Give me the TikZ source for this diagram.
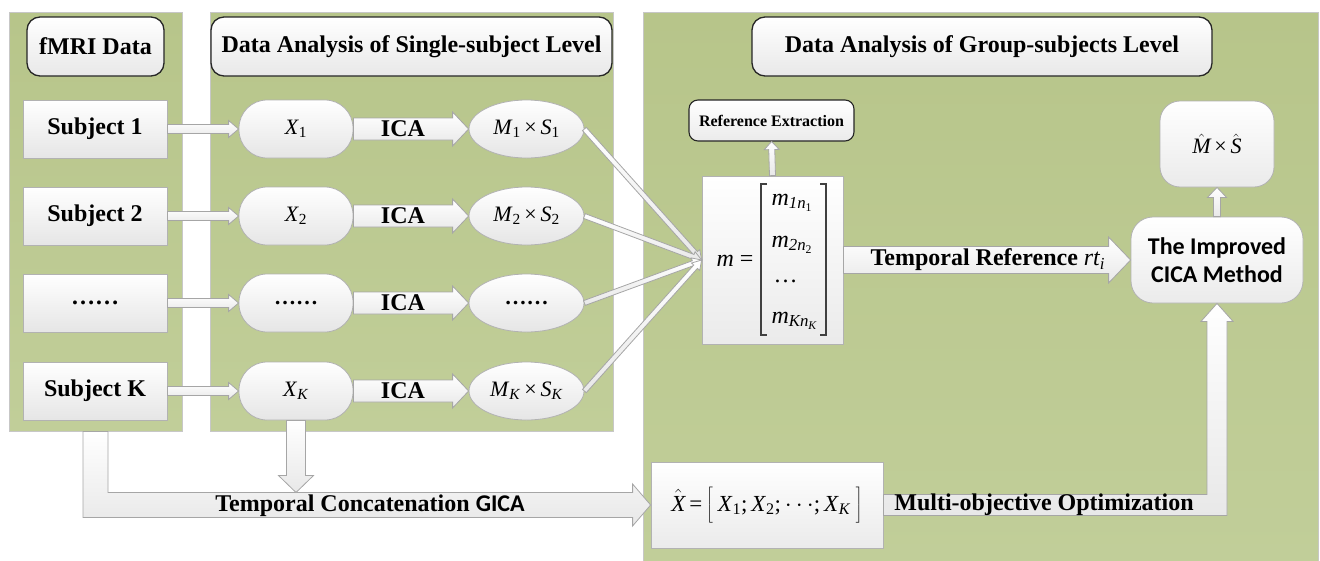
\documentclass[tikz,border=0pt]{standalone}
\usepackage{fontspec}
\setmainfont{Liberation Serif}
\newfontfamily\calib{Carlito}
\usetikzlibrary{calc,shapes.geometric}

\definecolor{greentop}{RGB}{183,197,138}
\definecolor{greenbot}{RGB}{193,206,153}
\newcommand\px[1]{\fontsize{#1}{#1}\selectfont}
\newcommand\sub[1]{\textsubscript{#1}}
\newcommand\tallstrut{\rule[-11pt]{0pt}{34pt}}

% hollow block arrow from #1 to #2: shaft half-width #3, head half-width #4, head length #5
\newcommand\fatarrow[5]{%
  \coordinate (fa-hb) at ($(#2)!#5!(#1)$);
  \path[hollow] ($(#1)!#3!90:(#2)$) -- ($(fa-hb)!#3!90:(#2)$) -- ($(fa-hb)!#4!90:(#2)$)
    -- (#2) -- ($(fa-hb)!#4!-90:(#2)$) -- ($(fa-hb)!#3!-90:(#2)$) -- ($(#1)!#3!-90:(#2)$) -- cycle;
}

\tikzset{
  panel/.style={draw=black!22, line width=0.8pt, top color=greentop, bottom color=greenbot, inner sep=0pt},
  hdr/.style={draw=black!85, line width=1.3pt, rounded corners=13pt, top color=white, bottom color=black!9,
    font=\px{24}\bfseries, inner sep=0pt, minimum height=59pt},
  sbox/.style={draw=black!30, line width=0.8pt, top color=white, bottom color=black!10,
    minimum width=144pt, minimum height=58pt, font=\px{24}\bfseries, inner sep=0pt},
  xbox/.style={draw=black!30, line width=0.8pt, rounded corners=28pt, top color=white, bottom color=black!10,
    minimum width=114pt, minimum height=58pt, font=\px{22}, inner sep=0pt},
  ebox/.style={ellipse, draw=black!30, line width=0.8pt, top color=white, bottom color=black!10,
    minimum width=115pt, minimum height=58pt, font=\px{22}, inner sep=0pt},
  plainbox/.style={draw=black!30, line width=0.8pt, top color=white, bottom color=black!8, inner sep=0pt},
  hollow/.style={draw=black!35, line width=0.8pt, top color=white, bottom color=black!9},
  lbl/.style={font=\px{24}\bfseries, inner sep=0pt},
}

\begin{document}
\begin{tikzpicture}[x=1pt, y=-1pt]
\useasboundingbox (0,0) rectangle (1320,560);

% background panels
\node[panel, minimum width=173pt, minimum height=419pt] (p1) at (95.5,221.5) {};
\node[panel, minimum width=403pt, minimum height=419pt] (p2) at (411.5,221.5) {};
\node[panel, minimum width=675pt, minimum height=550pt] (p3) at (980.5,287) {};

% panel headers
\node[hdr, minimum width=137pt] (hfmri) at (95.5,46.5) {fMRI Data};
\node[hdr, minimum width=401pt] (hsingle) at (411.5,46.5) {Data Analysis of Single-subject Level};
\node[hdr, minimum width=460pt] (hgroup) at (982,46.5) {Data Analysis of Group-subjects Level};

% subjects
\node[sbox] (s1) at (95,129) {Subject 1};
\node[sbox] (s2) at (95,216) {Subject 2};
\node[sbox] (s3) at (95,303) {……};
\node[sbox] (s4) at (95,391) {Subject K};

% single-subject data
\node[xbox] (x1) at (296,129) {\textit{X}\sub{1}};
\node[xbox] (x2) at (296,216) {\textit{X}\sub{2}};
\node[xbox, font=\px{22}\bfseries] (x3) at (296,303) {……};
\node[xbox] (x4) at (296,391) {\textit{X}\sub{\textit{K}}};

% decompositions
\node[ebox] (e1) at (526.5,129) {\textit{M}\sub{1}\,×\,\textit{S}\sub{1}};
\node[ebox] (e2) at (526.5,216) {\textit{M}\sub{2}\,×\,\textit{S}\sub{2}};
\node[ebox, font=\px{22}\bfseries] (e3) at (526.5,303) {……};
\node[ebox] (e4) at (526.5,391) {\textit{M}\sub{\textit{K}}\,×\,\textit{S}\sub{\textit{K}}};

% group level
\node[plainbox, minimum width=141pt, minimum height=168pt] (m) at (772.5,260) {};
\node[draw=black!85, line width=1.1pt, rounded corners=9pt, top color=white, bottom color=black!8,
  minimum width=165pt, minimum height=41pt, font=\px{16}\bfseries, inner sep=0pt] (re) at (771.5,120.5) {Reference Extraction};
\node[draw=black!30, line width=0.8pt, rounded corners=22pt, top color=white, bottom color=black!8,
  minimum width=172pt, minimum height=86pt, align=center, font=\calib\bfseries\fontsize{24}{28}\selectfont, inner sep=0pt]
  (cica) at (1217,260) {The Improved\\CICA Method};
\node[draw=black!30, line width=0.8pt, rounded corners=20pt, top color=white, bottom color=black!8,
  minimum width=114pt, minimum height=86pt, font=\px{22}, inner sep=0pt]
  (mh) at (1217,144) {$\hat{\mbox{\itshape M}}$\,×\,$\hat{\mbox{\itshape S}}$};
\node[plainbox, minimum width=232pt, minimum height=86pt, font=\px{23}] (xh) at (767,505)
  {$\hat{\mbox{\itshape X}}$\,=\,$\left[\tallstrut\right.$\,\textit{X}\sub{1};\,\textit{X}\sub{2};\,$\cdots$;\,\textit{X}\sub{\textit{K}}\,$\left.\tallstrut\right]$};

% matrix inside m
\node[font=\px{24}, anchor=base] (meq) at (735,266) {\textit{m} =};
\node[font=\px{24}, anchor=base west] (m1) at (768,205) {\textit{m}\sub{\textit{1n}\sub{1}}};
\node[font=\px{24}, anchor=base west] (m2) at (768,247) {\textit{m}\sub{\textit{2n}\sub{2}}};
\node[font=\px{24}, anchor=base west] (m3) at (770,282) {\ldots};
\node[font=\px{24}, anchor=base west] (m4) at (768,323) {\textit{m}\sub{\textit{Kn}\sub{\textit{K}}}};
\draw[black!75, line width=1.1pt] (767,184) -- (761,184) -- (761,335) -- (767,335);
\draw[black!75, line width=1.1pt] (820,184) -- (826,184) -- (826,335) -- (820,335);

% subject -> data arrows
\fatarrow{s1.east}{x1.west}{4.5pt}{8.5pt}{10pt}
\fatarrow{s2.east}{x2.west}{4.5pt}{8.5pt}{10pt}
\fatarrow{s3.east}{x3.west}{4.5pt}{8.5pt}{10pt}
\fatarrow{s4.east}{x4.west}{4.5pt}{8.5pt}{10pt}

% ICA arrows
\fatarrow{x1.east}{e1.west}{11pt}{17pt}{16pt}
\fatarrow{x2.east}{e2.west}{11pt}{17pt}{16pt}
\fatarrow{x3.east}{e3.west}{11pt}{17pt}{16pt}
\fatarrow{x4.east}{e4.west}{11pt}{17pt}{16pt}
\foreach \i in {1,...,4}{
  \node[lbl] at ($(x\i.east)!0.43!(e\i.west)$) {ICA};
}

% mixing matrices -> m
\fatarrow{e1.east}{m.west}{2.5pt}{5.5pt}{9pt}
\fatarrow{e2.east}{m.west}{2.5pt}{5.5pt}{9pt}
\fatarrow{e3.east}{m.west}{2.5pt}{5.5pt}{9pt}
\fatarrow{e4.east}{m.west}{2.5pt}{5.5pt}{9pt}

% m -> reference extraction, CICA -> result
\fatarrow{m.north}{re.south}{3pt}{7.5pt}{8pt}
\fatarrow{cica.north}{mh.south}{3.5pt}{9.5pt}{10pt}

% temporal reference
\fatarrow{m.east}{cica.west}{13.5pt}{23pt}{22pt}
\node[lbl, anchor=west] at ($(m.east)+(27,0)$) {Temporal Reference {\mdseries\itshape rt}\sub{\mdseries\itshape i}};

% temporal concatenation GICA
\coordinate (l1) at ($(p1.south)+(-12.5,0)$);
\coordinate (l2) at ($(p1.south)+(12.5,0)$);
\coordinate (t1) at ($(xh.west)+(-18,-12.5)$);
\coordinate (t2) at ($(xh.west)+(-18,12.5)$);
\coordinate (th1) at ($(xh.west)+(-18,-21)$);
\coordinate (th2) at ($(xh.west)+(-18,21)$);
\path[hollow] (l1) -- (l2) -- (l2 |- t1) -- (t1) -- (th1) -- (xh.west) -- (th2) -- (t2) -- (l1 |- t2) -- cycle;
\node[lbl] at (370,506) {Temporal Concatenation {\calib GICA}};
\coordinate (xkt) at (x4.south |- t1);
\fatarrow{x4.south}{xkt}{9.5pt}{17.5pt}{17pt}

% multi-objective optimization
\coordinate (a1) at ($(xh.east)+(0,-10.5)$);
\coordinate (a2) at ($(xh.east)+(0,10.5)$);
\coordinate (c1) at ($(cica.south)+(-10,18)$);
\coordinate (c2) at ($(cica.south)+(10,18)$);
\coordinate (h1) at ($(cica.south)+(-16,18)$);
\coordinate (h2) at ($(cica.south)+(16,18)$);
\path[hollow] (a1) -- (c1 |- a1) -- (c1) -- (h1) -- (cica.south) -- (h2) -- (c2) -- (c2 |- a2) -- (a2) -- cycle;
\node[lbl] at (1044,505) {Multi-objective Optimization};
\end{tikzpicture}
\end{document}
